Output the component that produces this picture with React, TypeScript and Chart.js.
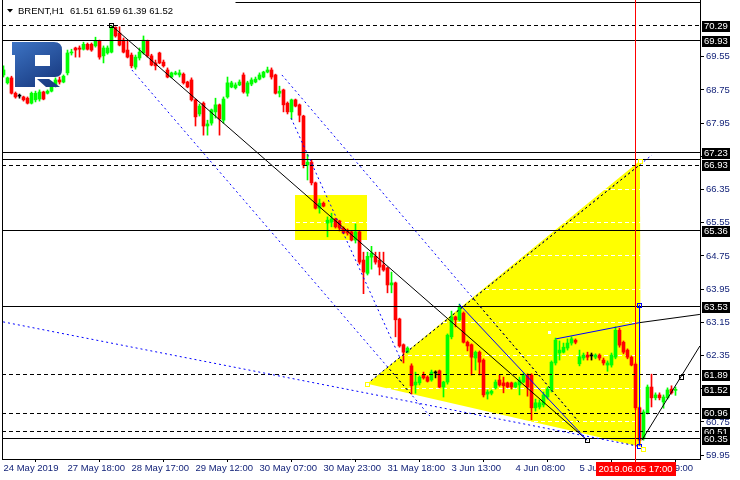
import React, { useEffect, useRef } from 'react';
import { Chart, registerables } from 'chart.js';

Chart.register(...registerables);

const SYMBOL = 'BRENT,H1';
const HEADER_OHLC = '61.51 61.59 61.39 61.52';

const opens = [69.11,68.92,69.04,68.67,68.60,68.58,68.55,68.43,68.51,68.53,68.70,68.67,68.72,68.87,68.99,68.94,69.16,69.64,69.76,69.76,69.73,69.85,69.85,69.81,69.93,69.57,69.64,69.66,70.26,70.12,69.95,69.71,69.59,69.30,69.52,69.64,69.93,69.57,69.40,69.64,69.42,69.23,69.06,69.13,69.11,69.13,68.94,68.99,68.51,68.17,68.43,67.88,67.95,68.22,68.39,68.02,68.58,68.82,68.80,68.87,69.11,68.67,68.89,68.94,69.01,69.06,69.18,69.23,69.11,68.67,68.75,68.43,68.22,68.51,68.39,68.12,66.94,67.01,66.51,65.90,66.02,65.54,65.56,65.64,65.59,65.42,65.37,65.33,65.13,65.33,64.65,64.33,64.72,64.74,64.65,64.53,64.46,64.05,64.10,63.23,62.61,62.43,62.10,61.64,61.69,61.88,61.83,61.76,61.93,61.98,61.59,61.71,62.80,63.28,63.21,63.37,62.67,62.61,62.29,62.43,62.24,61.42,61.44,61.57,61.76,61.69,61.69,61.69,61.59,61.64,61.71,61.88,61.88,61.09,61.11,61.16,61.35,61.52,62.17,62.41,62.43,62.53,62.65,62.72,62.15,62.29,62.36,62.34,62.31,62.36,62.24,62.12,62.12,62.31,62.96,62.67,62.48,62.31,62.14,61.09,60.36,60.96,61.59,61.33,61.40,61.23,61.33,61.54,61.51];
const highs = [69.33,69.06,69.08,68.70,68.65,68.60,68.58,68.70,68.72,68.75,68.72,68.75,68.92,69.04,69.06,69.11,69.71,69.73,69.78,69.81,69.90,69.88,69.88,70.02,69.95,69.81,69.81,70.29,70.27,70.27,70.00,69.95,69.64,69.59,69.76,70.05,69.95,69.61,69.47,69.66,69.47,69.28,69.18,69.20,69.23,69.16,68.96,69.04,68.53,68.41,68.46,68.02,68.29,68.55,68.41,68.58,69.06,68.96,68.92,68.99,69.16,68.96,69.04,69.06,69.16,69.20,69.30,69.28,69.13,68.84,68.77,68.46,68.53,68.53,68.41,68.14,67.20,67.06,66.53,66.12,66.05,65.69,65.78,65.66,65.61,65.45,65.40,65.35,65.52,65.35,64.84,64.84,64.98,64.84,64.84,64.84,64.48,64.36,64.12,63.25,62.63,62.56,62.15,61.95,61.86,61.95,61.86,62.00,61.98,62.00,61.73,62.87,63.42,63.30,63.59,63.40,62.70,62.63,62.46,62.46,62.27,61.52,61.52,61.76,61.88,61.83,61.71,61.71,61.71,61.83,61.93,61.91,61.91,61.30,61.28,61.47,61.59,62.22,62.77,62.70,62.65,62.75,62.80,62.75,62.48,62.41,62.43,62.41,62.39,62.39,62.29,62.22,62.41,63.04,63.01,62.70,62.51,62.34,62.17,61.11,61.04,61.64,61.90,61.45,61.45,61.40,61.57,61.62,61.59];
const lows = [69.06,68.89,68.65,68.55,68.55,68.48,68.41,68.41,68.46,68.48,68.51,68.65,68.70,68.82,68.89,68.92,69.11,69.59,69.54,69.54,69.71,69.71,69.68,69.78,69.49,69.40,69.61,69.64,70.02,69.81,69.64,69.52,69.28,69.25,69.47,69.61,69.54,69.33,69.23,69.38,69.30,69.04,69.04,69.11,69.06,68.89,68.80,68.48,67.88,68.12,67.66,67.66,67.90,68.07,67.66,67.95,68.55,68.80,68.77,68.85,68.67,68.60,68.85,68.92,68.99,69.04,69.16,69.01,68.65,68.58,68.22,68.17,68.05,68.34,67.98,66.87,66.58,66.46,65.88,65.78,65.93,65.21,65.45,65.42,65.35,65.28,65.25,65.11,65.06,64.55,63.84,64.29,64.43,64.55,64.29,64.38,63.86,63.86,62.80,62.55,62.17,62.41,61.42,61.44,61.64,61.78,61.71,61.73,61.81,61.57,61.35,61.66,62.75,63.04,63.18,62.65,62.46,61.88,62.00,61.88,61.35,61.30,61.40,61.54,61.61,61.45,61.57,61.54,61.57,61.40,61.69,61.37,60.80,61.01,61.06,61.11,61.30,61.47,62.12,62.24,62.41,62.48,62.60,62.63,62.10,62.24,62.24,62.24,62.27,62.24,62.12,61.97,62.07,62.27,62.55,62.39,62.27,62.10,61.04,60.19,60.31,60.94,61.11,61.28,61.28,61.08,61.30,61.42,61.39];
const closes = [69.23,69.04,68.67,68.58,68.60,68.51,68.43,68.67,68.67,68.70,68.53,68.72,68.87,68.99,68.94,69.08,69.64,69.66,69.71,69.73,69.85,69.73,69.71,69.93,69.54,69.76,69.76,70.26,70.05,69.83,69.66,69.54,69.33,69.54,69.66,69.95,69.57,69.35,69.33,69.40,69.33,69.06,69.16,69.16,69.16,68.92,68.82,68.51,68.10,68.36,67.88,67.93,68.27,68.39,68.05,68.53,68.92,68.92,68.87,68.94,68.70,68.92,68.99,69.01,69.11,69.18,69.23,69.06,68.67,68.72,68.39,68.22,68.51,68.36,68.14,66.94,67.01,66.51,65.90,66.02,65.95,65.61,65.64,65.45,65.42,65.30,65.30,65.13,65.33,64.60,64.36,64.74,64.82,64.60,64.48,64.41,64.05,64.10,63.21,62.58,62.43,62.53,61.62,61.71,61.83,61.81,61.73,61.95,61.93,61.59,61.71,62.84,63.28,63.21,63.52,62.67,62.58,62.31,62.43,62.19,61.40,61.47,61.49,61.71,61.64,61.62,61.59,61.59,61.69,61.76,61.88,61.59,61.09,61.21,61.21,61.40,61.54,62.19,62.72,62.48,62.55,62.65,62.75,62.67,62.32,62.36,62.31,62.34,62.36,62.29,62.17,62.17,62.36,62.96,62.60,62.43,62.31,62.12,61.09,60.31,60.99,61.59,61.33,61.40,61.33,61.35,61.52,61.45,61.52];

const timeTickIndex = [0, 16, 32, 48, 64, 80, 96, 112, 128, 144, 160];
const timeTickLabels = ['24 May 2019', '27 May 18:00', '28 May 17:00', '29 May 12:00', '30 May 07:00', '30 May 23:00', '31 May 18:00', '3 Jun 13:00', '4 Jun 08:00', '5 Jun 03:00', '5 Jun 19:00'];

const priceTicks = [69.55, 68.75, 67.95, 67.15, 66.35, 65.55, 64.75, 63.95, 63.15, 62.35, 61.55, 60.75, 59.95];
const hiddenPriceTicks = [67.15, 61.55];
const priceBoxes = [70.29, 69.93, 67.23, 66.93, 65.36, 63.53, 61.89, 61.52, 60.96, 60.51, 60.35];

const solidLevels = [70.86, 69.93, 67.23, 67.07, 65.36, 63.53, 60.35];
const solidLevelStart = [58, -1, -1, -1, -1, -1, -1];
const dashedLevels = [70.29, 66.93, 61.89, 60.96, 60.51];

const crosshairIndex = 158;
const crosshairLabel = '2019.06.05 17:00';

const triangle = [[90.9, 61.67], [159.1, 67.04], [159.35, 60.15]];
const rectangle = [[72.9, 66.21], [90.9, 65.13]];
const blackLines = [
  [[26.9, 70.31], [145.9, 60.31]],
  [[159.6, 60.31], [174.1, 62.58]],
  [[158.9, 63.14], [174.1, 63.34]],
];
const blueLines = [
  [[138.1, 62.75], [158.9, 63.14]],
  [[113.9, 63.59], [145.9, 60.31]],
  [[158.95, 63.57], [158.95, 60.18]],
];
const dottedBlueLines = [
  [[90.9, 61.67], [162.1, 67.18]],
  [[32.1, 69.23], [106.6, 60.89]],
  [[69.6, 69.11], [144.1, 60.72]],
  [[71.9, 68.07], [99.6, 62.19]],
  [[-0.1, 63.16], [159.3, 60.15]],
];
const blackSquares = [[26.9, 70.31], [145.9, 60.31], [169.45, 61.82]];
const blueSquares = [[158.95, 63.57], [158.95, 60.18]];
const yellowSquares = [[159.0, 67.04], [159.9, 60.1], [90.85, 61.67]];
const whiteDots = [[136.45, 62.92]];

const FONT = '"Liberation Sans", Arial, sans-serif';
const FONT_SIZE = 9.5;
const AXIS_COLOR = '#14247a';
const BULL = '#00ff00';
const BEAR = '#ff0000';
const DOJI = '#000000';

const candleColors = opens.map((o, i) => (closes[i] > o ? BULL : closes[i] < o ? BEAR : DOJI));
const indices = opens.map((_, i) => i);

const overlayPlugin = {
  id: 'mt4Overlay',
  beforeDatasetsDraw(chart: any) {
    const { ctx, chartArea: a, scales } = chart;
    const X = (v: number) => scales.x.getPixelForValue(v);
    const Y = (v: number) => scales.y.getPixelForValue(v);
    ctx.save();
    ctx.beginPath();
    ctx.rect(a.left, a.top, a.right - a.left, a.bottom - a.top);
    ctx.clip();
    ctx.fillStyle = '#ffff00';
    const [r0, r1] = rectangle;
    const rx = Math.round(X(r0[0]));
    const ry = Math.round(Y(r0[1]));
    ctx.fillRect(rx, ry, Math.round(X(r1[0])) - rx, Math.round(Y(r1[1])) - ry);
    ctx.beginPath();
    triangle.forEach(([i, p], k) => (k ? ctx.lineTo(X(i), Y(p)) : ctx.moveTo(X(i), Y(p))));
    ctx.closePath();
    ctx.fill();
    ctx.strokeStyle = '#ffffff';
    ctx.lineWidth = 1;
    ctx.setLineDash([4, 3]);
    priceTicks.forEach((p) => {
      const y = Math.floor(Y(p)) + 0.5;
      ctx.beginPath();
      ctx.moveTo(a.left, y);
      ctx.lineTo(a.right, y);
      ctx.stroke();
    });
    ctx.restore();
  },
  afterDatasetsDraw(chart: any) {
    const { ctx, chartArea: a, scales } = chart;
    const X = (v: number) => scales.x.getPixelForValue(v);
    const Y = (v: number) => scales.y.getPixelForValue(v);
    ctx.save();
    ctx.beginPath();
    ctx.rect(a.left, a.top, a.right - a.left, a.bottom - a.top);
    ctx.clip();
    ctx.lineWidth = 1;

    const hline = (p: number, dash: number[], from: number) => {
      const y = Math.floor(Y(p)) + 0.5;
      ctx.strokeStyle = '#000';
      ctx.setLineDash(dash);
      ctx.beginPath();
      ctx.moveTo(from >= 0 ? X(from) : a.left, y);
      ctx.lineTo(a.right, y);
      ctx.stroke();
    };
    solidLevels.forEach((p, k) => hline(p, [], solidLevelStart[k]));
    dashedLevels.forEach((p) => hline(p, [4, 3], -1));

    const seg = (pts: number[][], color: string, dash: number[]) => {
      ctx.strokeStyle = color;
      ctx.setLineDash(dash);
      ctx.beginPath();
      let x1 = X(pts[0][0]);
      let x2 = X(pts[1][0]);
      if (Math.abs(x1 - x2) < 0.01) {
        x1 = Math.floor(x1) + 0.5;
        x2 = x1;
      }
      ctx.moveTo(x1, Y(pts[0][1]));
      ctx.lineTo(x2, Y(pts[1][1]));
      ctx.stroke();
    };
    const triPath = () => {
      ctx.beginPath();
      triangle.forEach(([i, p], k) => (k ? ctx.lineTo(X(i), Y(p)) : ctx.moveTo(X(i), Y(p))));
      ctx.closePath();
    };
    dottedBlueLines.forEach((l) => {
      seg(l, '#0000ff', [2, 3]);
      ctx.save();
      triPath();
      ctx.clip();
      seg(l, '#000000', [2, 3]);
      ctx.restore();
    });
    blackLines.forEach((l) => seg(l, '#000000', []));
    blueLines.forEach((l) => seg(l, '#0000ff', []));

    ctx.setLineDash([]);
    const square = (pt: number[], stroke: string, fill: string | null) => {
      const x = Math.round(X(pt[0]));
      const y = Math.round(Y(pt[1]));
      if (fill) {
        ctx.fillStyle = fill;
        ctx.fillRect(x - 2, y - 2, 5, 5);
      }
      ctx.strokeStyle = stroke;
      ctx.strokeRect(x - 2 + 0.5, y - 2 + 0.5, 4, 4);
    };
    blackSquares.forEach((p) => square(p, '#000000', null));
    blueSquares.forEach((p) => square(p, '#0000ff', null));
    yellowSquares.forEach((p) => square(p, '#ffff00', '#ffffff'));
    whiteDots.forEach((p) => {
      ctx.fillStyle = '#ffffff';
      ctx.fillRect(Math.round(X(p[0])) - 1, Math.round(Y(p[1])) - 1, 3, 3);
    });
    ctx.restore();

    // crosshair
    ctx.save();
    const cx = Math.floor(X(crosshairIndex)) + 0.5;
    ctx.strokeStyle = '#ff0000';
    ctx.lineWidth = 1;
    ctx.beginPath();
    ctx.moveTo(cx, a.top);
    ctx.lineTo(cx, a.bottom + 4);
    ctx.stroke();
    // left frame
    ctx.strokeStyle = '#000';
    ctx.beginPath();
    ctx.moveTo(a.left + 0.5, a.top);
    ctx.lineTo(a.left + 0.5, a.bottom);
    ctx.stroke();

    // logo
    const g = ctx.createLinearGradient(12, 42, 40, 90);
    g.addColorStop(0, '#3d74c4');
    g.addColorStop(1, '#1a3d84');
    ctx.fillStyle = g;
    ctx.beginPath();
    ctx.moveTo(12, 42);
    ctx.lineTo(54, 42);
    ctx.quadraticCurveTo(62, 42, 62, 50);
    ctx.lineTo(62, 70);
    ctx.quadraticCurveTo(62, 77, 55, 77);
    ctx.lineTo(35, 77);
    ctx.lineTo(35, 87);
    ctx.lineTo(15, 87);
    ctx.lineTo(15, 55);
    ctx.lineTo(12, 55);
    ctx.closePath();
    ctx.moveTo(35, 55);
    ctx.lineTo(35, 66);
    ctx.lineTo(50, 66);
    ctx.lineTo(50, 55);
    ctx.closePath();
    ctx.fill('evenodd');
    ctx.beginPath();
    ctx.moveTo(37, 79);
    ctx.lineTo(49, 79);
    ctx.lineTo(60, 87);
    ctx.lineTo(46, 87);
    ctx.closePath();
    ctx.fill();

    // header
    ctx.fillStyle = '#000';
    ctx.beginPath();
    ctx.moveTo(7, 9);
    ctx.lineTo(13, 9);
    ctx.lineTo(10, 12.5);
    ctx.closePath();
    ctx.fill();
    ctx.font = `${FONT_SIZE}px ${FONT}`;
    ctx.textBaseline = 'middle';
    ctx.textAlign = 'left';
    ctx.fillText(SYMBOL, 18, 11);
    ctx.fillText(HEADER_OHLC, 70, 11);
    ctx.restore();
  },
  afterDraw(chart: any) {
    const { ctx, chartArea: a, scales } = chart;
    const X = (v: number) => scales.x.getPixelForValue(v);
    const Y = (v: number) => scales.y.getPixelForValue(v);
    ctx.save();
    ctx.font = `${FONT_SIZE}px ${FONT}`;
    ctx.textBaseline = 'middle';
    ctx.textAlign = 'left';
    priceBoxes.forEach((p) => {
      const y = Math.round(Y(p));
      ctx.fillStyle = '#000';
      ctx.fillRect(a.right + 2, y - 5, 28, 11);
      ctx.fillStyle = '#fff';
      ctx.fillText(p.toFixed(2), a.right + 4, y + 0.5);
    });
    const cx = Math.floor(X(crosshairIndex)) + 0.5;
    ctx.fillStyle = '#ff0000';
    ctx.fillRect(Math.round(cx - 40), a.bottom + 3, 80, 14);
    ctx.fillStyle = '#fff';
    ctx.textAlign = 'center';
    ctx.fillText(crosshairLabel, cx, a.bottom + 10.5);
    ctx.restore();
  },
};

export default function App() {
  const ref = useRef<HTMLCanvasElement>(null);
  useEffect(() => {
    document.body.style.margin = '0';
    const chart = new Chart(ref.current as HTMLCanvasElement, {
      type: 'bar',
      data: {
        datasets: [
          {
            data: indices.map((i) => ({ x: i, y: [opens[i], closes[i]] })),
            backgroundColor: candleColors,
            barThickness: 3,
            grouped: false,
            minBarLength: 1,
            borderWidth: 0,
          } as any,
          {
            data: indices.map((i) => ({ x: i, y: [lows[i], highs[i]] })),
            backgroundColor: candleColors,
            barThickness: 1,
            grouped: false,
            borderWidth: 0,
          } as any,
        ],
      },
      options: {
        animation: false,
        responsive: false,
        devicePixelRatio: 1,
        layout: { padding: { left: 2, top: 0, right: 0, bottom: 0 }, autoPadding: false } as any,
        plugins: { legend: { display: false }, tooltip: { enabled: false } },
        scales: {
          x: {
            type: 'linear',
            min: -0.375,
            max: 174.125,
            offset: false,
            afterBuildTicks: (s: any) => {
              s.ticks = timeTickIndex.map((v) => ({ value: v }));
            },
            afterFit: (s: any) => {
              s.height = 21;
              s.paddingLeft = 0;
              s.paddingRight = 0;
            },
            ticks: {
              autoSkip: false,
              maxRotation: 0,
              minRotation: 0,
              align: 'start',
              padding: 1,
              color: AXIS_COLOR,
              font: { family: FONT, size: FONT_SIZE },
              callback: (_v: any, idx: number) => timeTickLabels[idx],
            },
            grid: { drawOnChartArea: false, drawTicks: true, tickLength: 3, color: '#000' },
            border: { display: true, color: '#000' },
          } as any,
          y: {
            type: 'linear',
            position: 'right',
            min: 59.8561,
            max: 70.9163,
            afterBuildTicks: (s: any) => {
              s.ticks = priceTicks.map((v) => ({ value: v }));
            },
            afterFit: (s: any) => {
              s.width = 40;
              s.paddingTop = 0;
              s.paddingBottom = 0;
            },
            ticks: {
              autoSkip: false,
              padding: 2,
              color: AXIS_COLOR,
              font: { family: FONT, size: FONT_SIZE },
              callback: (v: any) => (hiddenPriceTicks.includes(Number(v)) ? '' : Number(v).toFixed(2)),
            },
            grid: { drawOnChartArea: false, drawTicks: true, tickLength: 4, color: '#000' },
            border: { display: true, color: '#000' },
          } as any,
        },
      },
      plugins: [overlayPlugin],
    });
    return () => chart.destroy();
  }, []);
  return (
    <div style={{ width: 740, height: 480, overflow: 'hidden' }}>
      <canvas ref={ref} width={740} height={480} style={{ display: 'block', width: 740, height: 480 }} />
    </div>
  );
}
